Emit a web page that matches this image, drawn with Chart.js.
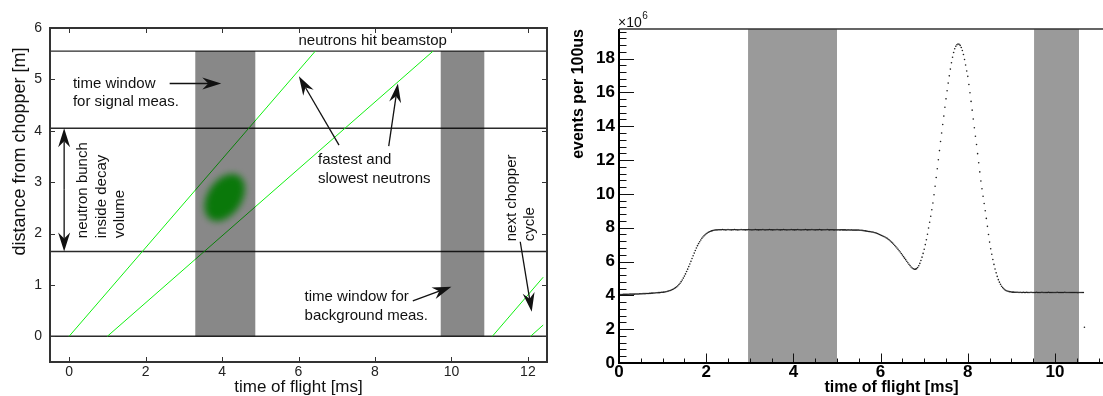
<!DOCTYPE html>
<html>
<head>
<meta charset="utf-8">
<script src="https://cdn.jsdelivr.net/npm/chart.js@4.4.1/dist/chart.umd.min.js"></script>
<style>
  html, body { margin: 0; padding: 0; background: #fff; overflow: hidden; width: 1103px; height: 396px; }
  #chartLeft  { position: absolute; left: 0; top: 0; }
  #chartRight { position: absolute; left: 555px; top: 0; }
</style>
</head>
<body>
<canvas id="chartLeft" width="555" height="396"></canvas>
<canvas id="chartRight" width="620" height="396"></canvas>
<script>
// ---- left panel: time-of-flight scheme ----
const levelY      = [5.55, 4.05, 1.65, 0];          // beamstop, decay volume top/bottom, chopper
const windowStart = [3.3, 9.72];                     // signal / background time windows [ms]
const windowEnd   = [4.87, 10.86];
const windowTop   = 5.55;
const neutronStartT = [0, 1.0, 11.07, 12.07];        // fastest, slowest, next cycle fastest/slowest
const neutronEndT   = [6.44, 9.52, 12.4, 12.4];
const neutronEndY   = [5.55, 5.55, 1.15, 0.22];
const bunchT = 4.07, bunchY = 2.70;                  // neutron bunch inside decay volume

// ---- right panel: measured spectrum (x10^6 events per 100us), bins every 0.025 ms from 0 ----
const tofStep = 0.025;
const counts = [
  4.05,4.05,4.05,4.05, 4.06,4.06,4.06,4.06, 4.06,4.06,4.07,4.07, 4.07,4.07,4.07,4.08, 4.08,4.08,4.08,4.09,
  4.09,4.09,4.10,4.10, 4.10,4.11,4.11,4.11, 4.12,4.12,4.13,4.13, 4.14,4.14,4.15,4.15, 4.16,4.16,4.17,4.18,
  4.18,4.19,4.20,4.21, 4.23,4.25,4.27,4.29, 4.32,4.35,4.38,4.42, 4.46,4.51,4.57,4.64, 4.72,4.81,4.91,5.02,
  5.14,5.27,5.41,5.55, 5.70,5.85,6.01,6.18, 6.34,6.50,6.65,6.80, 6.94,7.06,7.17,7.27, 7.37,7.45,7.52,7.58,
  7.64,7.69,7.73,7.76, 7.79,7.81,7.83,7.85, 7.86,7.87,7.87,7.88, 7.88,7.88,7.88,7.89, 7.88,7.88,7.87,7.88,
  7.89,7.88,7.88,7.87, 7.88,7.88,7.89,7.88, 7.88,7.87,7.88,7.88, 7.89,7.88,7.88,7.88, 7.87,7.88,7.88,7.89,
  7.88,7.88,7.87,7.88, 7.88,7.89,7.88,7.88, 7.87,7.88,7.88,7.88, 7.89,7.88,7.87,7.88, 7.88,7.88,7.89,7.88,
  7.88,7.87,7.88,7.88, 7.88,7.89,7.88,7.88, 7.87,7.88,7.88,7.89, 7.88,7.88,7.87,7.88, 7.88,7.88,7.89,7.88,
  7.88,7.87,7.88,7.88, 7.89,7.88,7.88,7.87, 7.88,7.88,7.88,7.89, 7.88,7.87,7.88,7.88, 7.88,7.89,7.88,7.88,
  7.87,7.88,7.88,7.88, 7.89,7.88,7.87,7.88, 7.88,7.88,7.88,7.89, 7.88,7.87,7.88,7.88, 7.88,7.87,7.87,7.88,
  7.87,7.88,7.87,7.87, 7.88,7.87,7.87,7.87, 7.87,7.86,7.87,7.87, 7.86,7.87,7.86,7.86, 7.86,7.86,7.86,7.86,
  7.86,7.85,7.85,7.84, 7.83,7.82,7.81,7.80, 7.79,7.78,7.77,7.76, 7.75,7.74,7.72,7.70, 7.68,7.66,7.63,7.60,
  7.57,7.54,7.51,7.48, 7.45,7.41,7.37,7.32, 7.27,7.21,7.15,7.09, 7.02,6.95,6.87,6.80, 6.72,6.64,6.56,6.47,
  6.38,6.29,6.20,6.11, 6.02,5.93,5.84,5.76, 5.68,5.62,5.57,5.54, 5.55,5.58,5.65,5.75, 5.89,6.06,6.26,6.48,
  6.73,7.00,7.29,7.61, 7.98,8.32,8.68,9.06, 9.46,9.95,10.45,10.97, 11.49,12.02,12.56,13.10, 13.60,14.10,14.60,15.12,
  15.62,16.10,16.55,16.98, 17.38,17.75,18.08,18.36, 18.58,18.73,18.82,18.86, 18.85,18.78,18.66,18.48, 18.24,17.95,17.62,17.27,
  16.95,16.47,15.98,15.47, 14.95,14.43,13.91,13.41, 12.92,12.38,11.84,11.30, 10.76,10.30,9.86,9.43, 9.00,8.55,8.08,7.60,
  7.15,6.76,6.43,6.12, 5.83,5.56,5.33,5.12, 4.93,4.78,4.65,4.54, 4.46,4.39,4.33,4.29, 4.26,4.24,4.22,4.21,
  4.20,4.19,4.19,4.18, 4.18,4.18,4.18,4.17, 4.18,4.17,4.17,4.18, 4.17,4.17,4.18,4.17, 4.17,4.17,4.18,4.17,
  4.17,4.17,4.17,4.18, 4.17,4.17,4.17,4.17, 4.18,4.17,4.17,4.17, 4.17,4.17,4.18,4.17, 4.17,4.17,4.17,4.17,
  4.17,4.17,4.18,4.17, 4.17,4.17,4.17,4.17, 4.17,4.18,4.17,4.17, 4.17,4.17,4.17,4.17, 4.17,4.17,4.17,4.17,
  4.17,4.16,4.17,4.17, 4.17,4.17,4.17,2.11
];
const gateStart = [2.96, 9.52];
const gateEnd   = [5.0, 10.55];

const FONT = "'Liberation Sans', Arial, Helvetica, sans-serif";

// annotations of the scheme (data coordinates)
const notes = [
  { lines: ['neutrons hit beamstop'], x: 7.94, y: 5.75, align: 'center' },
  { lines: ['time window', 'for signal meas.'], x: 0.1, y: 4.92, align: 'left' },
  { lines: ['fastest and', 'slowest neutrons'], x: 6.51, y: 3.43, align: 'left' },
  { lines: ['time window for', 'background meas.'], x: 6.16, y: 0.76, align: 'left' },
  { lines: ['neutron bunch', 'inside decay', 'volume'], x: 0.36, y: 1.91, align: 'left', rotate: true },
  { lines: ['next chopper', 'cycle'], x: 11.57, y: 1.85, align: 'left', rotate: true },
];
const arrows = [
  { from: [2.63, 4.92], to: [3.98, 4.92] },
  { from: [7.06, 3.72], to: [6.01, 5.06] },
  { from: [8.36, 3.70], to: [8.60, 4.92] },
  { from: [8.99, 0.69], to: [10.0, 0.965] },
  { from: [11.80, 1.84], to: [12.10, 0.48] },
  { from: [-0.13, 2.85], to: [-0.13, 4.05] },
  { from: [-0.13, 2.85], to: [-0.13, 1.65] },
];

function head(ctx, x0, y0, x1, y1) {
  const a = Math.atan2(y1 - y0, x1 - x0);
  ctx.save();
  ctx.translate(x1, y1);
  ctx.rotate(a);
  ctx.beginPath();
  ctx.moveTo(0, 0);
  ctx.lineTo(-19, -6);
  ctx.lineTo(-13, 0);
  ctx.lineTo(-19, 6);
  ctx.closePath();
  ctx.fill();
  ctx.restore();
}

const schemeDecor = {
  id: 'schemeDecor',
  beforeDatasetsDraw(chart) {
    const { ctx, scales: { x, y } } = chart;
    // blurred neutron bunch
    ctx.save();
    ctx.filter = 'blur(3.5px)';
    ctx.fillStyle = 'rgb(20,225,20)';
    ctx.beginPath();
    ctx.ellipse(x.getPixelForValue(bunchT), y.getPixelForValue(bunchY), 26, 17, -0.98, 0, Math.PI * 2);
    ctx.fill();
    ctx.restore();
  },
  afterDatasetsDraw(chart) {
    const { ctx, scales: { x, y } } = chart;
    ctx.save();
    ctx.fillStyle = 'rgba(0,0,0,0.467)';
    windowStart.forEach((t0, i) => {
      const x0 = x.getPixelForValue(t0), x1 = x.getPixelForValue(windowEnd[i]);
      const y0 = y.getPixelForValue(0), y1 = y.getPixelForValue(windowTop);
      ctx.fillRect(x0, y1, x1 - x0, y0 - y1);
    });
    ctx.restore();
  },
  afterDraw(chart) {
    const { ctx, chartArea: a, scales: { x, y } } = chart;
    ctx.save();
    // frame + inside ticks
    ctx.strokeStyle = '#333';
    ctx.lineWidth = 2;
    ctx.strokeRect(a.left, a.top, a.right - a.left, a.bottom - a.top);
    ctx.lineWidth = 1;
    ctx.beginPath();
    x.ticks.forEach(t => {
      const px = Math.round(x.getPixelForValue(t.value)) + 0.5;
      ctx.moveTo(px, a.bottom); ctx.lineTo(px, a.bottom - 5);
      ctx.moveTo(px, a.top); ctx.lineTo(px, a.top + 5);
    });
    y.ticks.forEach(t => {
      const py = Math.round(y.getPixelForValue(t.value)) + 0.5;
      ctx.moveTo(a.left, py); ctx.lineTo(a.left + 5, py);
      ctx.moveTo(a.right, py); ctx.lineTo(a.right - 5, py);
    });
    ctx.stroke();

    // notes
    ctx.fillStyle = '#111';
    ctx.font = '15px ' + FONT;
    ctx.textBaseline = 'middle';
    notes.forEach(n => {
      const px = x.getPixelForValue(n.x), py = y.getPixelForValue(n.y);
      ctx.save();
      ctx.translate(px, py);
      if (n.rotate) ctx.rotate(-Math.PI / 2);
      ctx.textAlign = n.align;
      n.lines.forEach((s, i) => ctx.fillText(s, 0, i * 18.5));
      ctx.restore();
    });

    // arrows
    ctx.strokeStyle = '#111';
    ctx.fillStyle = '#111';
    ctx.lineWidth = 1.3;
    arrows.forEach(ar => {
      const x0 = x.getPixelForValue(ar.from[0]), y0 = y.getPixelForValue(ar.from[1]);
      const x1 = x.getPixelForValue(ar.to[0]), y1 = y.getPixelForValue(ar.to[1]);
      const len = Math.hypot(x1 - x0, y1 - y0);
      const ex = x1 - (x1 - x0) / len * 13, ey = y1 - (y1 - y0) / len * 13;
      ctx.beginPath(); ctx.moveTo(x0, y0); ctx.lineTo(ex, ey); ctx.stroke();
      head(ctx, x0, y0, x1, y1);
    });

    // y title
    ctx.save();
    ctx.translate(20, 151.5);
    ctx.rotate(-Math.PI / 2);
    ctx.textAlign = 'center';
    ctx.font = '18px ' + FONT;
    ctx.fillStyle = '#111';
    ctx.fillText('distance from chopper [m]', 0, 0);
    ctx.restore();
    ctx.restore();
  }
};

const levelSets = levelY.map(v => ({
  data: [{ x: -0.5, y: v }, { x: 12.5, y: v }],
  showLine: true, borderColor: '#2a2a2a', borderWidth: 1.4, pointRadius: 0,
}));
const neutronSets = neutronStartT.map((t, i) => ({
  data: [{ x: t, y: 0 }, { x: neutronEndT[i], y: neutronEndY[i] }],
  showLine: true, borderColor: '#11f011', borderWidth: 1, pointRadius: 0,
}));

new Chart(document.getElementById('chartLeft'), {
  type: 'scatter',
  data: { datasets: [...neutronSets, ...levelSets] },
  options: {
    responsive: false,
    animation: false,
    layout: { padding: { top: 28, right: 8, left: 0, bottom: 0 } },
    plugins: { legend: { display: false }, tooltip: { enabled: false } },
    scales: {
      x: {
        type: 'linear', min: -0.5, max: 12.5,
        afterFit: s => { s.height = 34; },
        ticks: { stepSize: 2, includeBounds: false, color: '#222', font: { family: FONT, size: 14 }, padding: 2, maxRotation: 0 },
        grid: { display: false, drawTicks: false }, border: { display: false },
        title: { display: true, text: 'time of flight [ms]', color: '#111', font: { family: FONT, size: 17, lineHeight: 1 }, padding: 0 },
      },
      y: {
        type: 'linear', min: -0.5, max: 6,
        afterFit: s => { s.width = 50; },
        ticks: { stepSize: 1, includeBounds: false, color: '#222', font: { family: FONT, size: 14 }, padding: 8 },
        grid: { display: false, drawTicks: false }, border: { display: false },
      },
    },
  },
  plugins: [schemeDecor],
});

// ---- right panel ----
const spectrumDecor = {
  id: 'spectrumDecor',
  beforeDatasetsDraw(chart) {
    const { ctx, chartArea: a, scales: { x } } = chart;
    ctx.save();
    ctx.fillStyle = '#9a9a9a';
    gateStart.forEach((t0, i) => {
      const x0 = x.getPixelForValue(t0), x1 = x.getPixelForValue(gateEnd[i]);
      ctx.fillRect(x0, a.top, x1 - x0, a.bottom - a.top);
    });
    ctx.restore();
  },
  afterDraw(chart) {
    const { ctx, chartArea: a, scales: { x, y } } = chart;
    ctx.save();
    ctx.strokeStyle = '#111';
    ctx.lineWidth = 1;
    ctx.beginPath();
    for (let v = 0; v <= y.max + 1e-9; v += 0.4) {
      const py = Math.round(y.getPixelForValue(v)) + 0.5;
      const major = Math.abs(v / 2 - Math.round(v / 2)) < 1e-6;
      ctx.moveTo(a.left, py); ctx.lineTo(a.left + (major ? 15 : 7.5), py);
    }
    for (let v = 0; v <= x.max + 1e-9; v += 0.5) {
      const px = Math.round(x.getPixelForValue(v)) + 0.5;
      const major = Math.abs(v / 2 - Math.round(v / 2)) < 1e-6;
      ctx.moveTo(px, a.bottom); ctx.lineTo(px, a.bottom - (major ? 9.5 : 4.5));
    }
    ctx.stroke();
    ctx.lineWidth = 2;
    ctx.strokeStyle = '#000';
    ctx.beginPath();
    ctx.moveTo(a.left, a.top); ctx.lineTo(a.left, a.bottom); ctx.lineTo(a.right, a.bottom);
    ctx.stroke();
    ctx.lineWidth = 1.5;
    ctx.strokeStyle = '#333';
    ctx.beginPath();
    ctx.moveTo(a.left, a.top); ctx.lineTo(a.right, a.top); ctx.lineTo(a.right, a.bottom);
    ctx.stroke();
    // exponent label
    ctx.fillStyle = '#111';
    ctx.textBaseline = 'alphabetic';
    ctx.textAlign = 'left';
    ctx.font = '14px ' + FONT;
    ctx.fillText('\u00d710', a.left - 1, 27);
    const w = ctx.measureText('\u00d710').width;
    ctx.font = '10px ' + FONT;
    ctx.fillText('6', a.left - 1 + w + 0.5, 19);
    ctx.restore();
  }
};

new Chart(document.getElementById('chartRight'), {
  type: 'scatter',
  data: {
    datasets: [{
      data: counts.map((v, i) => ({ x: i * tofStep, y: v })),
      pointRadius: 0.8, pointBorderWidth: 0, backgroundColor: '#1e1e1e', showLine: false,
    }],
  },
  options: {
    responsive: false,
    animation: false,
    layout: { padding: { top: 29, right: 11, left: 0, bottom: 0 } },
    plugins: { legend: { display: false }, tooltip: { enabled: false } },
    scales: {
      x: {
        type: 'linear', min: 0, max: 12.5,
        afterFit: s => { s.height = 33; },
        ticks: { stepSize: 2, includeBounds: false, color: '#000', font: { family: FONT, size: 17, weight: 'bold' }, padding: -1, maxRotation: 0 },
        grid: { display: false, drawTicks: false }, border: { display: false },
        title: { display: true, text: 'time of flight [ms]', color: '#000', font: { family: FONT, size: 16, weight: 'bold', lineHeight: 1 }, padding: 0 },
      },
      y: {
        type: 'linear', min: 0, max: 19.75,
        afterFit: s => { s.width = 64; },
        ticks: { stepSize: 2, includeBounds: false, color: '#000', font: { family: FONT, size: 17, weight: 'bold' }, padding: 4 },
        grid: { display: false, drawTicks: false }, border: { display: false },
        title: { display: true, text: 'events per 100us', align: 'end', color: '#000', font: { family: FONT, size: 16, weight: 'bold', lineHeight: 1 }, padding: { top: 16, bottom: 0 } },
      },
    },
  },
  plugins: [spectrumDecor],
});
</script>
</body>
</html>
